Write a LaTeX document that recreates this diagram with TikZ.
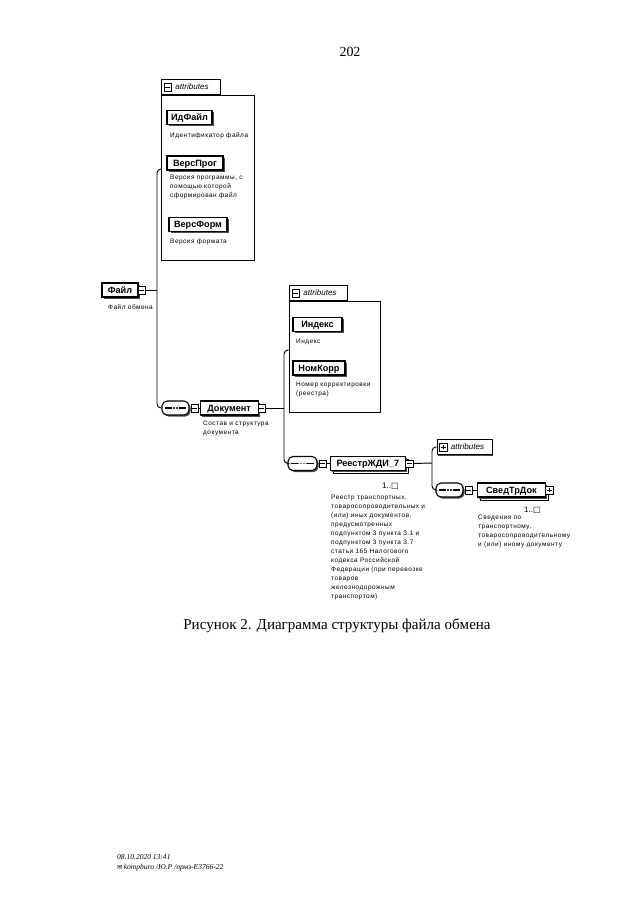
\documentclass[tikz,border=0pt]{standalone}
\usepackage{fontspec}
\setmainfont{Liberation Serif}
\newfontfamily\dsans{Liberation Sans}
\newfontfamily\dlab[LetterSpace=8]{Liberation Sans}
\newfontfamily\dsym{DejaVu Sans}
\usetikzlibrary{positioning, shadows}
\newcommand{\px}{0.9302pt}

\tikzset{
  elembase/.style={draw, line width=1pt, fill=white, inner sep=0pt, minimum height=14*\px,
    text height=6.2pt, text depth=0.6pt, font=\dsans\bfseries\fontsize{8.5}{9}\selectfont},
  elem/.style={elembase, general shadow={fill=black!70, shadow xshift=1.4pt, shadow yshift=-1.4pt}},
  elemmany/.style={elembase, copy shadow={shadow xshift=3pt, shadow yshift=-3pt},
    general shadow={fill=black!70, shadow xshift=1.4pt, shadow yshift=-1.4pt}},
  tglminus/.style={draw, fill=white, inner sep=0pt, minimum size=7.5*\px,
    path picture={\draw ([xshift=1.2pt]path picture bounding box.west) -- ([xshift=-1.2pt]path picture bounding box.east);}},
  tglplus/.style={draw, fill=white, inner sep=0pt, minimum size=7.5*\px,
    path picture={\draw ([xshift=1.2pt]path picture bounding box.west) -- ([xshift=-1.2pt]path picture bounding box.east);
      \draw ([yshift=1.2pt]path picture bounding box.south) -- ([yshift=-1.2pt]path picture bounding box.north);}},
  seq/.style={draw, line width=1pt, fill=white, rounded corners=5*\px, minimum width=27*\px, minimum height=14*\px, inner sep=0pt,
    general shadow={fill=black!70, shadow xshift=1.4pt, shadow yshift=-1.4pt},
    path picture={\draw ([xshift=2.5pt]path picture bounding box.west) -- ([xshift=-2.5pt]path picture bounding box.east);
      \fill (path picture bounding box.center) circle (1pt) ++(-2.7pt,0) circle (1pt) ++(5.4pt,0) circle (1pt);}},
  attrtab/.style={draw, line width=0.9pt, fill=white, anchor=south west, inner sep=0pt, minimum height=15*\px, align=left,
    text height=5.6pt, text depth=1pt, font=\dsans\itshape\fontsize{7.5}{8}\selectfont},
  attrbody/.style={draw, line width=0.9pt, fill=white, anchor=north west, inner sep=0pt,
    general shadow={fill=black!60, shadow xshift=0.8pt, shadow yshift=-0.8pt}},
  desc/.style={anchor=north west, inner sep=0pt, align=left, font=\dlab\fontsize{6}{8.4}\selectfont},
  mult/.style={anchor=east, inner sep=0pt, font=\dsans\fontsize{7.5}{8}\selectfont},
  conn/.style={line width=0.9pt, rounded corners=4*\px}
}

\begin{document}
\begin{tikzpicture}[x=\px, y=-\px]
    \useasboundingbox (0,0) rectangle (640,905);
    \fill[white] (0,0) rectangle (640,905);

    % page number
    \node[font=\fontsize{13}{15}\selectfont] (pagenum) at (350,52) {202};

    % attributes of Файл
    \node[attrbody, minimum width=93*\px, minimum height=165*\px] (attrA) at (161,95) {};
    \node[attrtab, text width=59*\px] (tabA) at (161,95) {\hspace*{13pt}attributes};
    \node[tglminus, right=2.5pt of tabA.west] (tabAT) {};

    \node[elem, minimum width=45*\px] (idfajl) at (189.5,117.5) {ИдФайл};
    \node[desc] (idfajlD) at (170,132) {Идентификатор файла};
    \node[elem, minimum width=56*\px] (versprog) at (195,163) {ВерсПрог};
    \node[desc] (versprogD) at (170,175) {Версия программы, с\\помощью которой\\сформирован файл};
    \node[elem, minimum width=58*\px] (versform) at (198,224.5) {ВерсФорм};
    \node[desc] (versformD) at (170,239) {Версия формата};

    % root element
    \node[elem, minimum width=36*\px] (fajl) at (120,290) {Файл};
    \node[tglminus] (fajlT) at ([xshift=3pt]fajl.east) {};
    \node[desc] (fajlD) at (108,304) {Файл обмена};

    % sequence -> Документ
    \node[seq] (seqA) at (175.5,408) {};
    \node[tglminus, right=1pt of seqA.east] (seqAT) {};
    \node[elem, minimum width=58*\px, right=1pt of seqAT] (dokument) {Документ};
    \node[tglminus] (dokumentT) at ([xshift=3pt]dokument.east) {};
    \node[desc] (dokumentD) at (203,421) {Состав и структура\\документа};

    \coordinate (busA) at (157,169);
    \draw[line width=0.9pt] (fajlT.east) -- (fajlT.east -| busA);
    \draw[conn] (attrA.west |- busA) -- (busA) |- (seqA.west);
    \draw[line width=0.9pt] (seqAT.east) -- (dokument.west);

    % attributes of Документ
    \node[attrbody, minimum width=91*\px, minimum height=111*\px] (attrB) at (289,301) {};
    \node[attrtab, text width=58*\px] (tabB) at (289,301) {\hspace*{13pt}attributes};
    \node[tglminus, right=2.5pt of tabB.west] (tabBT) {};

    \node[elem, minimum width=49*\px] (indeks) at (317.5,324.5) {Индекс};
    \node[desc] (indeksD) at (296,339) {Индекс};
    \node[elem, minimum width=52*\px] (nomkorr) at (319,368) {НомКорр};
    \node[desc] (nomkorrD) at (296,382) {Номер корректировки\\(реестра)};

    % sequence -> РеестрЖДИ_7
    \node[seq, minimum width=29*\px] (seqB) at (302.5,463.5) {};
    \node[tglminus, right=1pt of seqB.east] (seqBT) {};
    \node[elemmany, minimum width=75*\px, right=3pt of seqBT] (reestr) {РеестрЖДИ\_7};
    \node[tglminus] (reestrT) at ([xshift=3pt]reestr.east) {};
    \node[mult] (reestrM) at (399,486) {1..{\dsym □}};
    \node[desc] (reestrD) at (331,495) {Реестр транспортных,\\товаросопроводительных и\\(или) иных документов,\\предусмотренных\\подпунктом 3 пункта 3.1 и\\подпунктом 3 пункта 3.7\\статьи 165 Налогового\\кодекса Российской\\Федерации (при перевозке\\товаров\\железнодорожным\\транспортом)};

    \coordinate (busB) at (284,350);
    \draw[line width=0.9pt] (dokumentT.east) -- (dokumentT.east -| busB);
    \draw[conn] (attrB.west |- busB) -- (busB) |- (seqB.west);
    \draw[line width=0.9pt] (seqBT.east) -- (reestr.west);

    % attributes of РеестрЖДИ_7 (collapsed)
    \node[attrtab, anchor=center, text width=55*\px,
      general shadow={fill=black!70, shadow xshift=1.3pt, shadow yshift=-1.3pt}] (attrC) at (464.5,447) {\hspace*{13pt}attributes};
    \node[tglplus, right=2.5pt of attrC.west] (attrCT) {};

    % sequence -> СведТрДок
    \node[seq] (seqC) at (449.5,490) {};
    \node[tglminus, right=1pt of seqC.east] (seqCT) {};
    \node[elemmany, minimum width=68*\px, right=4pt of seqCT] (svedtr) {СведТрДок};
    \node[tglplus] (svedtrT) at ([xshift=3pt]svedtr.east) {};
    \node[mult] (svedtrM) at (541,510) {1..{\dsym □}};
    \node[desc] (svedtrD) at (478,515) {Сведения по\\транспортному,\\товаросопроводительному\\и (или) иному документу};

    \coordinate (busC) at (432,463);
    \draw[line width=0.9pt] (reestrT.east) -- (busC);
    \draw[conn] (attrC.west) -| (busC) |- (seqC.west);
    \draw[line width=0.9pt] (seqCT.east) -- (svedtr.west);

    % caption
    \node[font=\fontsize{14}{16}\selectfont] (caption) at (337,626) {Рисунок 2. Диаграмма структуры файла обмена};

    % stamp
    \node[anchor=west, inner sep=0pt, align=left, font=\itshape\fontsize{7}{9}\selectfont] (stamp) at (117,863) {08.10.2020 13:41\\{\dsym\fontsize{6}{9}\selectfont ✉}\,kompburo /Ю.Р /прмз-Е3766-22};
\end{tikzpicture}
\end{document}
